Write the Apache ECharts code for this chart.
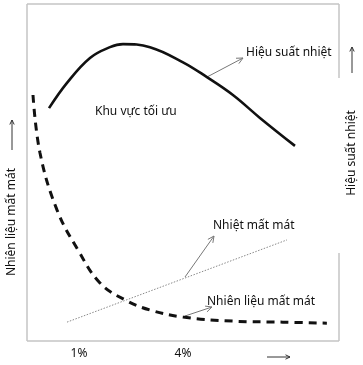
<!DOCTYPE html>
<html><head><meta charset="utf-8">
<script src="https://cdn.jsdelivr.net/npm/echarts@6/dist/echarts.min.js"></script>
<style>html,body{margin:0;padding:0;background:#fff}#c{width:363px;height:365px}</style>
</head><body><div id="c"></div>
<script>
// x values in %, y values in relative units (0-100)
var efficiencyX = [0.135, 0.654, 1.317, 1.894, 2.269, 3.048, 4.0, 4.69, 5.44, 6.22, 7.23];
var efficiencyY = [69.1, 76.6, 84.0, 87.2, 88.1, 87.2, 82.7, 78.3, 73.0, 66.2, 57.9];
var fuelLossX = [-0.327, -0.125, 0.365, 0.971, 1.606, 2.327, 3.048, 4.0, 5.44, 6.88, 8.15];
var fuelLossY = [73.0, 55.8, 38.9, 27.0, 17.2, 12.2, 9.2, 7.1, 5.9, 5.6, 5.3];
var heatLossX = [0.654, 7.0];
var heatLossY = [5.6, 30.0];
var tickLabels = {1: '1%', 4: '4%'};

function zip(a, b) { return a.map(function (v, i) { return [v, b[i]]; }); }

var FONT = 'Noto Sans';
function arrow(x1, y1, x2, y2, color, w, hl) {
  var ang = Math.atan2(y2 - y1, x2 - x1);
  var a = 0.45;
  hl = hl || 6;
  return {
    type: 'group', silent: true,
    children: [
      { type: 'line', shape: { x1: x1, y1: y1, x2: x2, y2: y2 }, style: { stroke: color, lineWidth: w } },
      { type: 'polyline', shape: { points: [
        [x2 - hl * Math.cos(ang - a), y2 - hl * Math.sin(ang - a)],
        [x2, y2],
        [x2 - hl * Math.cos(ang + a), y2 - hl * Math.sin(ang + a)]
      ] }, style: { stroke: color, lineWidth: w, fill: null } }
    ]
  };
}
function txt(x, y, s, align, rot) {
  return { type: 'text', x: x, y: y, rotation: rot || 0, silent: true,
    style: { text: s, fill: '#111', font: '12px "' + FONT + '"', align: align || 'left', verticalAlign: 'middle' } };
}
var frameColor = '#c4c4c4';
function seg(x1, y1, x2, y2) {
  return { type: 'line', silent: true, shape: { x1: x1, y1: y1, x2: x2, y2: y2 }, style: { stroke: frameColor, lineWidth: 1.5 } };
}

var chart = echarts.init(document.getElementById('c'));
chart.setOption({
  animation: false,
  grid: { left: 27, top: 4, width: 312, height: 337 },
  xAxis: {
    type: 'value', min: -0.5, max: 8.5, interval: 0.5,
    axisLine: { show: false }, axisTick: { show: false }, splitLine: { show: false },
    axisLabel: {
      margin: 7, color: '#111', fontFamily: FONT, fontSize: 12,
      formatter: function (v) { return tickLabels[v] || ''; }
    }
  },
  yAxis: {
    type: 'value', min: 0, max: 100,
    axisLine: { show: false }, axisTick: { show: false }, splitLine: { show: false }, axisLabel: { show: false }
  },
  series: [
    { type: 'line', name: 'Hiệu suất nhiệt', data: zip(efficiencyX, efficiencyY), smooth: 0.4, symbol: 'none',
      lineStyle: { color: '#111', width: 2.6 } },
    { type: 'line', name: 'Nhiên liệu mất mát', data: zip(fuelLossX, fuelLossY), smooth: 0.4, symbol: 'none',
      lineStyle: { color: '#111', width: 3, type: [8, 6] } },
    { type: 'line', name: 'Nhiệt mất mát', data: zip(heatLossX, heatLossY), symbol: 'none',
      lineStyle: { color: '#888', width: 1, type: [1.5, 1.5] } }
  ],
  graphic: [
    seg(27, 4, 339, 4), seg(27, 4, 27, 341), seg(27, 341, 339, 341),
    seg(339, 4, 339, 78), seg(339, 253, 339, 341),
    txt(246, 53, 'Hiệu suất nhiệt'),
    arrow(207, 77, 243, 58, '#777', 1, 7),
    txt(95, 112, 'Khu vực tối ưu'),
    txt(213, 226, 'Nhiệt mất mát'),
    arrow(185, 277, 214, 236, '#777', 1, 7),
    txt(207, 302, 'Nhiên liệu mất mát'),
    arrow(185, 316, 212, 307, '#777', 1, 7),
    txt(12, 222, 'Nhiên liệu mất mát', 'center', Math.PI / 2),
    arrow(12, 150, 12, 120, '#333', 1, 5),
    txt(352, 153, 'Hiệu suất nhiệt', 'center', Math.PI / 2),
    arrow(352, 73, 352, 47, '#333', 1, 5),
    arrow(267, 357, 290, 357, '#333', 1, 5)
  ]
});
</script></body></html>
